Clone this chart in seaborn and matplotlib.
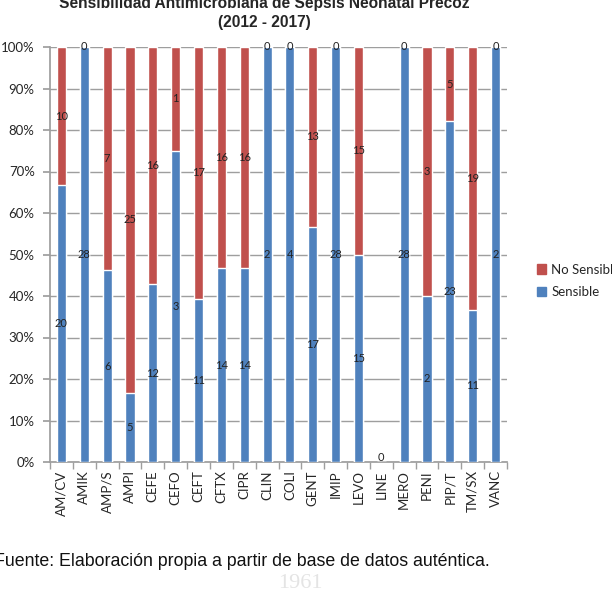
import numpy as np
import pandas as pd
import matplotlib
matplotlib.use("Agg")
import matplotlib.pyplot as plt
import seaborn as sns
from matplotlib.patches import Patch

categories = ["AM/CV", "AMIK", "AMP/S", "AMPI", "CEFE", "CEFO", "CEFT", "CFTX", "CIPR", "CLIN",
              "COLI", "GENT", "IMIP", "LEVO", "LINE", "MERO", "PENI", "PIP/T", "TM/SX", "VANC"]
sensible = [20, 28, 6, 5, 12, 3, 11, 14, 14, 2, 4, 17, 28, 15, 0, 28, 2, 23, 11, 2]
no_sensible = [10, 0, 7, 25, 16, 1, 17, 16, 16, 0, 0, 13, 0, 15, 0, 0, 3, 5, 19, 0]
yticks = [0, 0.1, 0.2, 0.3, 0.4, 0.5, 0.6, 0.7, 0.8, 0.9, 1.0]

BLUE = "#4F81BD"
RED = "#C0504D"

sns.set_theme(style="white")
plt.rcParams["font.family"] = ["Lato", "DejaVu Sans"]

df = pd.DataFrame({"cat": categories, "s": sensible, "n": no_sensible})
tot = (df["s"] + df["n"]).replace(0, np.nan)
df["ps"] = (df["s"] / tot).fillna(0)
df["pn"] = (df["n"] / tot).fillna(0)
df["ptot"] = df["ps"] + df["pn"]

fig = plt.figure(figsize=(6.12, 5.96), dpi=100)
ax = fig.add_axes([50/612, 1 - 462/596, 457/612, 415/596])

sns.barplot(data=df, x="cat", y="ptot", color=RED, width=0.4, ax=ax, saturation=1, zorder=3)
sns.barplot(data=df, x="cat", y="ps", color=BLUE, width=0.4, ax=ax, saturation=1, zorder=4)

ax.set_ylim(0, 1)
ax.set_xlim(-0.5, len(categories) - 0.5)
ax.set_yticks(yticks)
ax.set_yticklabels([f"{int(round(v*100))}%" for v in yticks], fontsize=9.5)
ax.yaxis.grid(True, color="#9e9e9e", linewidth=1, zorder=0)
ax.set_axisbelow(True)
ax.set_xlabel("")
ax.set_ylabel("")
ax.set_xticks(range(len(categories)))
ax.set_xticklabels(categories, rotation=90, fontsize=9.5)
ax.tick_params(axis="x", length=0, pad=6)
ax.tick_params(axis="y", length=0, pad=6)
ax.set_xticks(np.arange(-0.5, len(categories), 1), minor=True)
ax.tick_params(axis="x", which="minor", length=5, color="#9e9e9e", direction="out", bottom=True)
ax.tick_params(axis="y", which="both", left=True, length=5, color="#9e9e9e")
for s in ["top", "right"]:
    ax.spines[s].set_visible(False)
for s in ["left", "bottom"]:
    ax.spines[s].set_color("#9e9e9e")

for i, r in df.iterrows():
    if r["ptot"] == 0:
        ax.text(i, 0.012, "0", ha="center", va="center", fontsize=8, color="#222222", zorder=6)
        continue
    ax.text(i, r["ps"] / 2, str(int(r["s"])), ha="center", va="center", fontsize=8, color="#222222", zorder=6)
    ax.text(i, r["ps"] + r["pn"] / 2, str(int(r["n"])), ha="center", va="center", fontsize=8, color="#222222", zorder=6)

handles = [Patch(color=RED, label="No Sensible"), Patch(color=BLUE, label="Sensible")]
fig.legend(handles=handles, loc="upper left", bbox_to_anchor=(530/612, 1 - 257/596), frameon=False,
           fontsize=9.5, handlelength=0.7, handleheight=0.7, handletextpad=0.4, labelspacing=0.8,
           borderpad=0)

fig.text(264/612, 1 - 13/596, "Sensibilidad Antimicrobiana de Sepsis Neonatal Precoz\n(2012 - 2017)",
         ha="center", va="center", fontsize=11.2, fontweight="bold", family="Liberation Sans",
         linespacing=1.3)

fig.text(300/612, 1 - 584/596, "1961", ha="center", va="center", fontsize=16, color="#e4e4e4",
         family="Liberation Serif")

fig.text(-6/612, 1 - 562/596, "Fuente: Elaboración propia a partir de base de datos auténtica.",
         ha="left", va="center", fontsize=12.8, family="Liberation Sans", color="#111111")

fig.savefig("out.png", dpi=100)
